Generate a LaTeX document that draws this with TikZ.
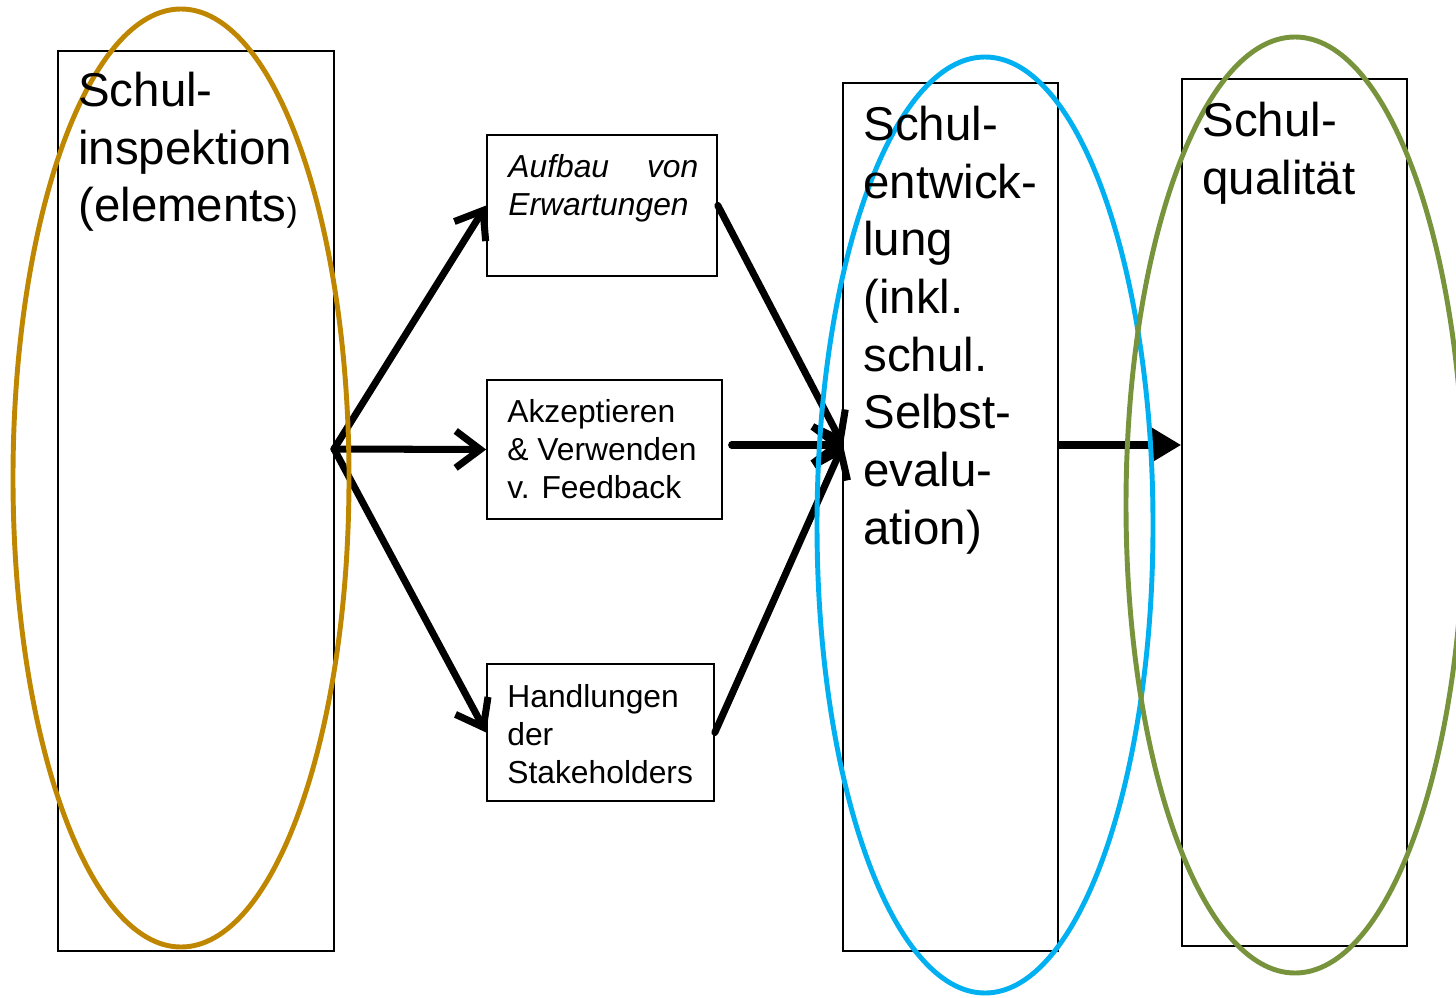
\documentclass[tikz,border=0pt]{standalone}
\usepackage{fontspec}
\setmainfont{Liberation Sans}
\usetikzlibrary{arrows.meta}
\definecolor{insporange}{RGB}{191,134,0}
\definecolor{entwblue}{RGB}{0,176,240}
\definecolor{qualgreen}{RGB}{119,147,60}
\tikzset{
  box/.style={draw,line width=1pt,inner sep=0pt},
  bigtext/.style={anchor=north west,inner sep=0pt,align=left,font=\fontsize{27}{32.8}\selectfont},
  smalltext/.style={anchor=north west,inner sep=0pt,align=left,font=\fontsize{18.1}{21.7}\selectfont},
  flow/.style={line width=4pt,line cap=round,-{Straight Barb[length=14pt,width=21pt]}},
  ring/.style={line width=2.8pt},
}
\begin{document}
\begin{tikzpicture}[x=0.02cm,y=-0.02cm]
    \useasboundingbox (0,0) rectangle (1456,997);
    % Kästen
    \node[box,minimum width=5.52cm,minimum height=18cm] (insp) at (196,501) {};
    \node[box,minimum width=4.6cm,minimum height=2.82cm] (aufbau) at (602,205.5) {};
    \node[box,minimum width=4.7cm,minimum height=2.78cm] (akz) at (604.5,449.5) {};
    \node[box,minimum width=4.54cm,minimum height=2.74cm] (handl) at (600.5,732.5) {};
    \node[box,minimum width=4.3cm,minimum height=17.36cm] (entw) at (950.5,517) {};
    \node[box,minimum width=4.5cm,minimum height=17.34cm] (qual) at (1294.5,512.5) {};
    \coordinate (fork) at (334,449);
    \coordinate (merge) at (843,445);
    % Pfeile
    \draw[flow] (fork) -- (aufbau.west);
    \draw[flow] (fork) -- (akz.west);
    \draw[flow] (fork) -- (handl.west);
    \draw[flow] (aufbau.east) -- (merge);
    \draw[flow] ([xshift=5]akz.east |- merge) -- (merge);
    \draw[flow] (handl.east) -- (merge);
    \draw[line width=4pt,-{Triangle[length=17pt,width=19pt]}] (entw.east |- merge) -- (qual.west |- merge);
    % Ellipsen
    \draw[ring,insporange] (181,478) ellipse[x radius=168,y radius=469];
    \draw[ring,entwblue] (985,525) ellipse[x radius=168,y radius=468];
    \draw[ring,qualgreen] (1295,505) ellipse[x radius=169,y radius=468];
    % Texte
    \node[bigtext] (insptext) at (78,72) {Schul-\\inspektion\\(elements{\fontsize{19}{22}\selectfont)}};
    \node[bigtext] (entwtext) at (863,106) {Schul-\\entwick-\\lung\\(inkl.\\schul.\\Selbst-\\evalu-\\ation)};
    \node[bigtext] (qualtext) at (1202,102) {Schul-\\qualität};
    \node[smalltext,text width=3.8cm,font=\fontsize{18.1}{21.7}\selectfont\itshape] (aufbautext) at (508,154) {Aufbau\hfill von\\Erwartungen};
    \node[smalltext] (akztext) at (507,399) {Akzeptieren\\\& Verwenden\\v. Feedback};
    \node[smalltext] (handltext) at (507,684) {Handlungen\\der\\Stakeholders};
  \end{tikzpicture}
\end{document}
